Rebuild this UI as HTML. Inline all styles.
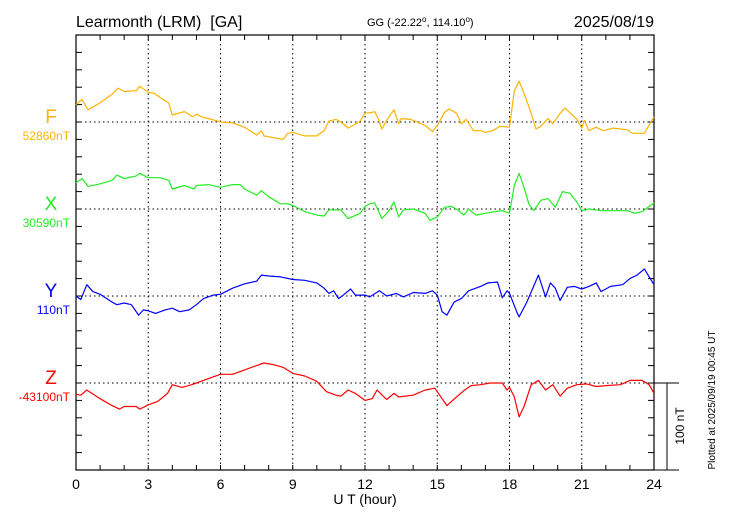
<!DOCTYPE html>
<html><head><meta charset="utf-8"><style>
body{margin:0;background:#fff;}
svg{display:block;font-family:"Liberation Sans",sans-serif;}
</style></head><body>
<svg id="chart" width="730" height="520" viewBox="0 0 730 520">
<g id="frame"></g>
<g id="series"></g>
<g id="labels">
<text x="76" y="27" font-size="16">Learmonth (LRM)&#160; [GA]</text>
<text x="367" y="26" font-size="11">GG (-22.22<tspan dy="-4" font-size="8">o</tspan><tspan dy="4">, 114.10</tspan><tspan dy="-4" font-size="8">o</tspan><tspan dy="4">)</tspan></text>
<text x="654" y="27" font-size="16" text-anchor="end">2025/08/19</text>
<text x="365" y="504" font-size="14" text-anchor="middle">U T (hour)</text>
<text transform="translate(715,400) rotate(-90)" font-size="10" text-anchor="middle">Plotted at 2025/09/19 00:45 UT</text>
<text transform="translate(684,426) rotate(-90)" font-size="12" text-anchor="middle">100 nT</text>
</g>
</svg>
<script>
const hoursF=[0,0.25,0.5,1,1.5,1.75,2,2.5,2.65,3,3.25,3.5,3.85,4,4.5,4.85,5,5.3,5.5,6,6.5,7,7.5,7.7,7.8,8.2,8.6,8.8,9,9.5,10,10.3,10.5,10.8,11,11.3,11.5,11.8,12,12.3,12.4,12.55,12.7,12.9,13.2,13.4,13.5,13.9,14.5,14.8,15,15.3,15.5,15.8,16,16.2,16.5,16.8,17,17.3,17.6,18,18.2,18.4,18.6,18.9,19.1,19.3,19.6,19.8,20.1,20.3,20.5,20.8,21,21.1,21.3,21.6,21.9,22.3,22.9,23.1,23.6,24];
const valuesF=[20,26,14,22,32,39,35,36,41,34,33,28,22,8,12,6,9,5,4,0,-1,-6,-15,-10,-16,-18,-20,-13,-12,-16,-16,-10,1,3,0,-7,-4,1,10,11,12,4,-8,2,14,-2,4,3,-4,-11,-4,11,15,10,-2,3,-10,-10,-12,-10,-5,-6,36,47,33,10,-8,-5,4,-2,10,16,11,3,-7,2,-10,-6,-10,-7,-9,-13,-13,6];
const hoursX=[0,0.25,0.5,1,1.5,1.7,2,2.5,2.65,3,3.5,3.85,4,4.5,4.9,5,5.5,6,6.5,6.8,7,7.5,7.7,8,8.5,8.8,9,9.5,10,10.3,10.5,11,11.3,11.8,12,12.2,12.4,12.7,13,13.2,13.4,13.6,14,14.5,14.7,15,15.3,15.6,15.9,16.1,16.3,16.6,17,17.4,17.7,18,18.2,18.4,18.6,18.8,19,19.3,19.6,19.9,20.2,20.5,20.8,21,21.3,21.8,22.3,22.9,23.2,23.5,24];
const valuesX=[30,35,26,29,33,39,35,38,41,36,36,33,23,27,23,27,28,25,28,28,23,16,21,14,6,6,4,-3,-7,-8,-1,-1,-11,-5,3,6,7,-11,-2,8,-9,-1,0,-5,-13,-9,2,3,-2,-7,0,-7,-5,-3,-2,-5,27,41,25,6,-2,10,12,2,20,18,8,-2,0,-2,-2,-2,-5,-3,7];
const hoursY=[0,0.2,0.45,0.7,1,1.5,1.7,2,2.3,2.6,2.8,3,3.3,3.7,4,4.3,4.7,5,5.3,5.7,6,6.5,7,7.5,7.7,8,8.5,9,9.5,10,10.3,10.5,10.7,10.9,11.1,11.4,11.6,12,12.2,12.6,12.9,13.3,13.6,14,14.5,14.8,15,15.2,15.4,15.7,16,16.3,16.8,17.1,17.5,17.7,17.9,18,18.3,18.4,18.7,19,19.2,19.5,19.7,19.9,20.1,20.4,20.7,21,21.3,21.6,21.8,22.2,22.7,23,23.3,23.6,23.8,24];
const valuesY=[0,-4,13,5,2,-7,-10,-8,-10,-22,-16,-17,-20,-16,-14,-18,-16,-10,-3,1,2,9,14,17,24,23,22,19,18,15,9,3,6,-3,1,8,1,1,-1,6,0,3,-1,4,3,6,1,-18,-22,-7,-3,6,11,15,16,-2,6,3,-18,-24,-8,11,24,-1,15,9,-5,10,11,8,11,15,5,11,13,20,24,31,22,13];
const hoursZ=[0,0.2,0.45,1,1.5,1.8,2,2.5,2.65,3,3.4,3.8,4,4.4,4.8,5,5.5,6,6.5,7,7.5,7.8,8.2,8.6,9,9.5,10,10.4,10.8,11,11.3,11.6,12,12.3,12.5,12.9,13.2,13.4,14,14.5,14.9,15.2,15.4,15.8,16.1,16.4,16.8,17.2,17.7,17.9,18,18.2,18.4,18.6,18.9,19.2,19.5,19.8,20.1,20.4,20.8,21.2,21.6,22,22.6,23,23.5,23.8,24];
const valuesZ=[-13,-14,-8,-18,-26,-30,-27,-27,-30,-25,-21,-12,-2,-5,-2,0,5,10,10,15,20,23,21,18,11,8,2,-10,-14,-15,-8,-12,-20,-18,-8,-19,-12,-16,-14,-8,-6,-18,-26,-16,-9,-3,-2,0,0,-8,-5,-16,-39,-27,-2,3,-8,-2,-15,-6,-2,-1,-4,-3,-2,3,3,-2,-12];
const xTicks=[0,3,6,9,12,15,18,21,24];
const components=['F','X','Y','Z'];
const baseLabels=['52860nT','30590nT','110nT','-43100nT'];

const NS='http://www.w3.org/2000/svg';
const L=76,R=654,T=35,B=470,baseY=[122,209,296,383],PPN=0.87;
const colors=['#ffb300','#22ee22','#0000ff','#ff0000'];
const xs=h=>L+(R-L)*h/24;
function mk(tag,attrs,parent){const e=document.createElementNS(NS,tag);for(const k in attrs)e.setAttribute(k,attrs[k]);parent.appendChild(e);return e;}
const frame=document.getElementById('frame');
const rect=mk('rect',{x:L,y:T,width:R-L,height:B-T,fill:'none',stroke:'#000','stroke-width':1.2},frame);


for(let h=1;h<24;h++){
  const x=xs(h);
  const t1=mk('line',{x1:x,y1:B,x2:x,y2:B-5,stroke:'#000'},frame);
  
  
  const t2=mk('line',{x1:x,y1:T,x2:x,y2:T+5,stroke:'#000'},frame);
  
  
}
xTicks.forEach(h=>{
  const x=xs(h);
  if(h>0&&h<24){
    const g=mk('line',{x1:x,y1:T,x2:x,y2:B,stroke:'#000','stroke-dasharray':'1.5,3','stroke-width':1},frame);
    
    
  }
  const t=mk('text',{x:x,y:489,'font-size':14,'text-anchor':'middle'},frame);
  t.textContent=h;
  
  
});
for(let y=B;y>T;y-=20*PPN){
  const a=mk('line',{x1:L,y1:y,x2:L+6,y2:y,stroke:'#000'},frame);
  
  
  const b=mk('line',{x1:R,y1:y,x2:R-6,y2:y,stroke:'#000'},frame);
  
  
}
const sb=mk('line',{x1:667,y1:baseY[3],x2:667,y2:B,stroke:'#000'},frame);


const sbt=mk('line',{x1:R,y1:baseY[3],x2:679,y2:baseY[3],stroke:'#000'},frame);


const sbb=mk('line',{x1:R,y1:B,x2:679,y2:B,stroke:'#000'},frame);



const seriesG=document.getElementById('series');
const allH=[hoursF,hoursX,hoursY,hoursZ],allV=[valuesF,valuesX,valuesY,valuesZ];
components.forEach((c,i)=>{
  const bl=mk('line',{x1:L,y1:baseY[i],x2:R,y2:baseY[i],stroke:'#000','stroke-dasharray':'1.5,3'},seriesG);
  
  
  const pts=allH[i].map((h,j)=>xs(h).toFixed(1)+','+(baseY[i]-allV[i][j]*PPN).toFixed(1)).join(' ');
  const pl=mk('polyline',{points:pts,fill:'none',stroke:colors[i],'stroke-width':1.2,'stroke-linejoin':'round'},seriesG);
  
  
  const lt=mk('text',{x:51,y:baseY[i]+1,'font-size':19,'text-anchor':'middle',fill:colors[i]},seriesG);
  lt.textContent=c;
  
  
  const vt=mk('text',{x:70,y:baseY[i]+18,'font-size':12,'text-anchor':'end',fill:colors[i]},seriesG);
  vt.textContent=baseLabels[i];
  
  
});
</script>
</body></html>
